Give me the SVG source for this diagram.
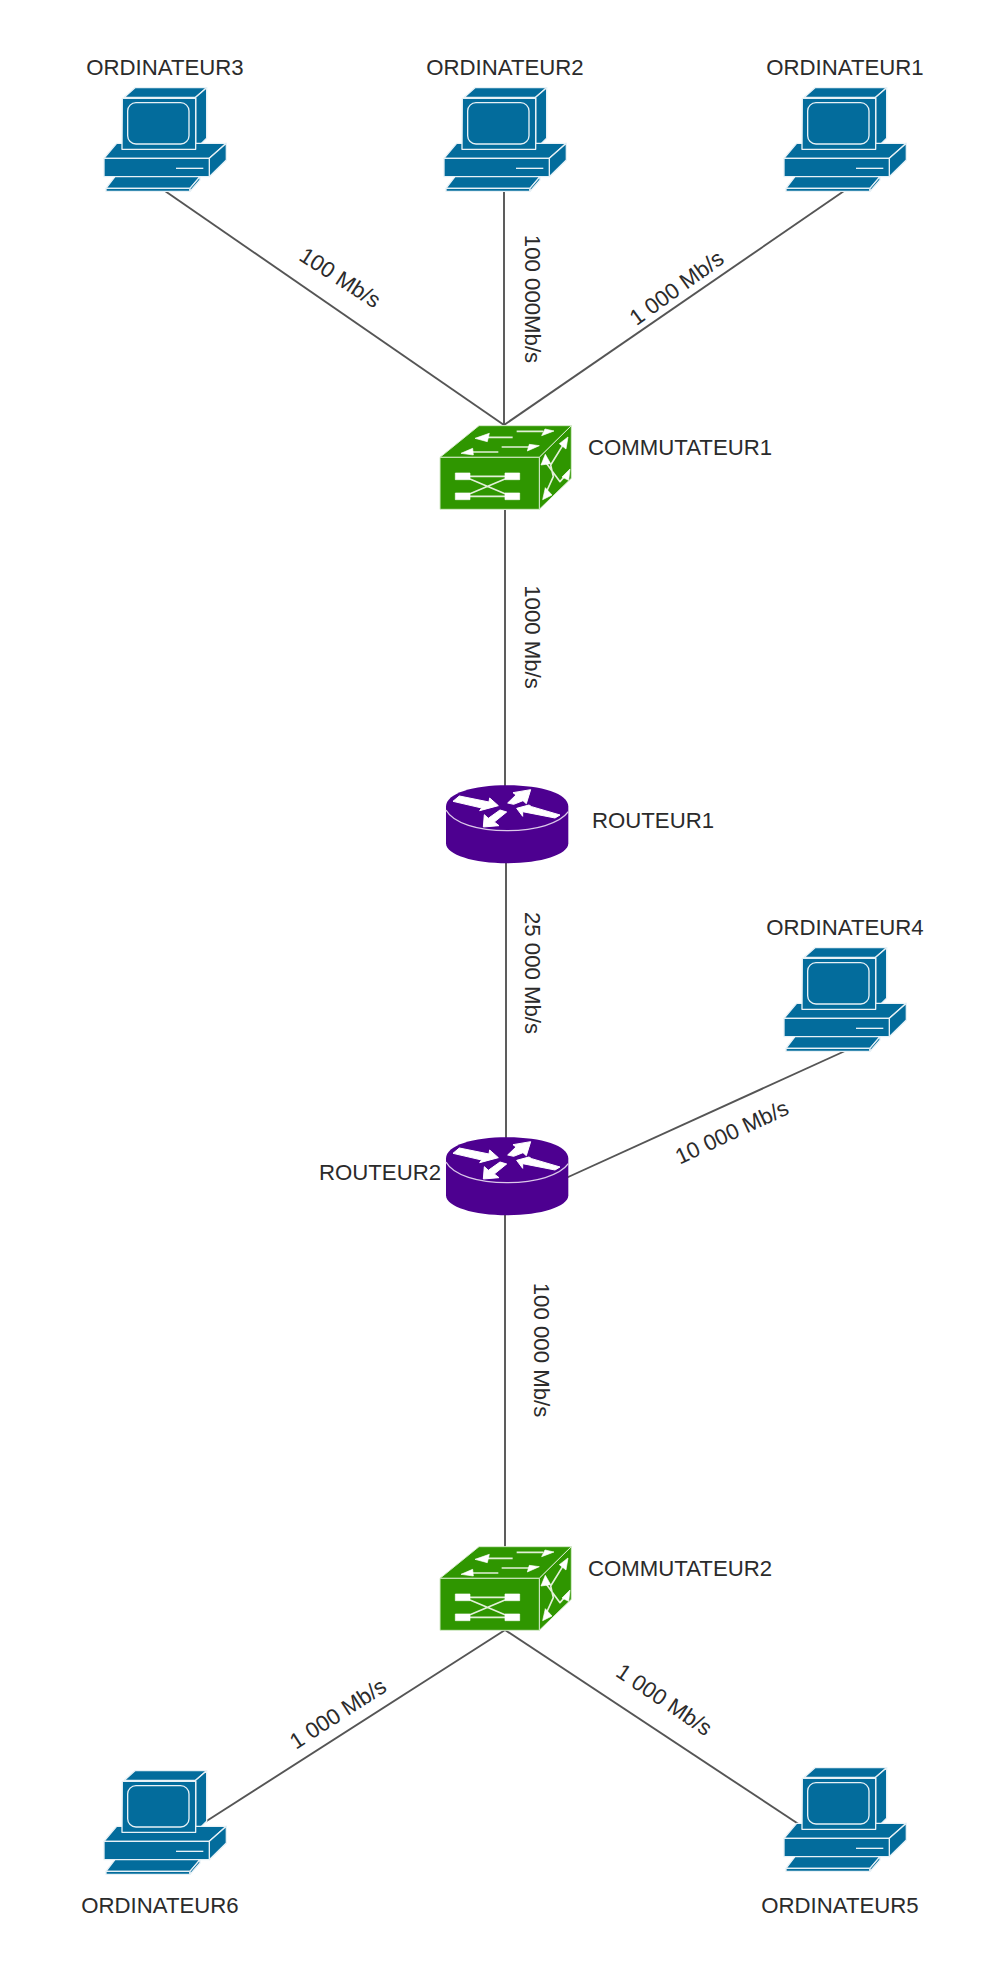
<svg xmlns="http://www.w3.org/2000/svg" width="1005" height="1977" viewBox="0 0 1005 1977">
<style>
text{font-family:"Liberation Sans",Arial,sans-serif;font-size:22.2px;fill:#2b2b2b}
.c{text-anchor:middle}
#connectors line{stroke:#555;stroke-width:1.9;fill:none}
.pc *{stroke:#e8f1f6;stroke-width:4;stroke-linejoin:round;fill:#036C9C}
.sw *{stroke:#d6ebca;stroke-width:3;fill:#2F9600;stroke-linejoin:round}
.sw .w{fill:#fff;stroke:#fff;stroke-width:2}
.sw .l{fill:none;stroke:#e2f0d8;stroke-width:5}
.rt .b{fill:#4D0090;stroke:none}
.rt .a{fill:#fff;stroke:#fff;stroke-width:3;stroke-linejoin:round}
.rt .l{fill:none;stroke:#dcc8ea;stroke-width:4}
</style>
<defs>
<g id="pc" class="pc">
<path d="M103 82L135 53H350L317 82Z"/>
<path d="M317 82L350 53V205L317 238Z"/>
<path d="M42 265L80 220H409L358 265Z"/>
<path d="M358 265L409 220V270L358 320Z"/>
<path d="M42 265H358V320H42Z"/>
<path d="M97 85H317V238H96Z"/>
<rect x="113" y="98" width="184" height="124" rx="25"/>
<path d="M258 295H340"/>
<path d="M75 320H330L300 355H48Z"/>
<path d="M48 355H300V364H48Z"/>
<path d="M300 355L330 320V330L300 364Z"/>
</g>
<g id="sw" class="sw">
<path d="M30 127L147 32H424L328 127Z"/>
<path d="M328 127L424 32V190L328 283Z"/>
<path d="M30 127H328V283H30Z"/>
<path class="l" d="M120 184H225M120 244H225M120 192L225 236M120 236L225 192"/>
<rect class="w" x="76" y="174" width="44" height="20"/>
<rect class="w" x="76" y="234" width="44" height="20"/>
<rect class="w" x="225" y="174" width="44" height="20"/>
<rect class="w" x="225" y="234" width="44" height="20"/>
<path class="l" d="M260 49H340M170 67H248M125 111H205M215 96H300"/>
<path class="w" d="M335 62L372 48L345 42ZM135 70L172 80L178 55ZM93 115L130 120L128 100ZM292 108L328 92L298 88Z"/>
<path class="l" d="M345 240L370 185L362 150L402 85M342 135L390 200L412 175"/>
<path class="w" d="M414 66L388 86L408 102ZM338 254L366 240L346 218ZM333 150L362 146L346 118ZM420 162L396 186L416 196Z"/>
</g>
<g id="rt" class="rt">
<path class="b" d="M33 95C33 55 115 31 216 31S400 55 400 95V205C400 240 315 265 216 265S33 240 33 205Z"/>
<path class="l" d="M33 105C55 145 130 167 216 167S375 145 400 110"/>
<path class="a" d="M54 79L73 63L162 81L164 69L190 92L134 107L140 99ZM375 120L360 129L263 110L263 124L245 100L282 90L290 95ZM218 84L243 60L234 53L287 44L274 86L264 77L236 88ZM215 111L178 141L192 152L145 156L148 119L160 130L195 105Z"/>
</g>
</defs>
<g id="connectors">
<line x1="165" y1="191" x2="504" y2="425"/>
<line x1="504" y1="191" x2="504" y2="425"/>
<line x1="844" y1="191" x2="504" y2="425"/>
<line x1="505" y1="510" x2="505" y2="790"/>
<line x1="506" y1="863" x2="506" y2="1140"/>
<line x1="566" y1="1178" x2="845" y2="1051"/>
<line x1="505" y1="1215" x2="505" y2="1550"/>
<line x1="505" y1="1630" x2="205" y2="1822"/>
<line x1="505" y1="1630" x2="800" y2="1825"/>
</g>
<g id="ordinateur3"><use href="#pc" transform="translate(90 70) scale(.3333)"/><text class="c" x="165" y="75">ORDINATEUR3</text></g>
<g id="ordinateur2"><use href="#pc" transform="translate(430 70) scale(.3333)"/><text class="c" x="505" y="75">ORDINATEUR2</text></g>
<g id="ordinateur1"><use href="#pc" transform="translate(770 70) scale(.3333)"/><text class="c" x="845" y="75">ORDINATEUR1</text></g>
<g id="ordinateur4"><use href="#pc" transform="translate(770 930) scale(.3333)"/><text class="c" x="845" y="935">ORDINATEUR4</text></g>
<g id="ordinateur5"><use href="#pc" transform="translate(770 1750) scale(.3333)"/><text class="c" x="840" y="1913">ORDINATEUR5</text></g>
<g id="ordinateur6"><use href="#pc" transform="translate(90 1753) scale(.3333)"/><text class="c" x="160" y="1913">ORDINATEUR6</text></g>
<g id="commutateur1"><use href="#sw" transform="translate(430 415) scale(.3333)"/><text x="588" y="455">COMMUTATEUR1</text></g>
<g id="commutateur2"><use href="#sw" transform="translate(430 1536) scale(.3333)"/><text x="588" y="1576">COMMUTATEUR2</text></g>
<g id="routeur1"><use href="#rt" transform="translate(435 775) scale(.3333)"/><text x="592" y="828">ROUTEUR1</text></g>
<g id="routeur2"><use href="#rt" transform="translate(435 1127) scale(.3333)"/><text x="319" y="1180">ROUTEUR2</text></g>
<g id="labels">
<text class="c" transform="translate(336 284) rotate(33)">100 Mb/s</text>
<text class="c" transform="translate(525 299) rotate(90)">100 000Mb/s</text>
<text class="c" transform="translate(681 294) rotate(-36)">1 000 Mb/s</text>
<text class="c" transform="translate(525 637) rotate(90)">1000 Mb/s</text>
<text class="c" transform="translate(525 973) rotate(90)">25 000 Mb/s</text>
<text class="c" transform="translate(735 1139) rotate(-25)">10 000 Mb/s</text>
<text class="c" transform="translate(534 1350) rotate(90)">100 000 Mb/s</text>
<text class="c" transform="translate(342 1720) rotate(-33)">1 000 Mb/s</text>
<text class="c" transform="translate(660 1706) rotate(34)">1 000 Mb/s</text>
</g>
</svg>
